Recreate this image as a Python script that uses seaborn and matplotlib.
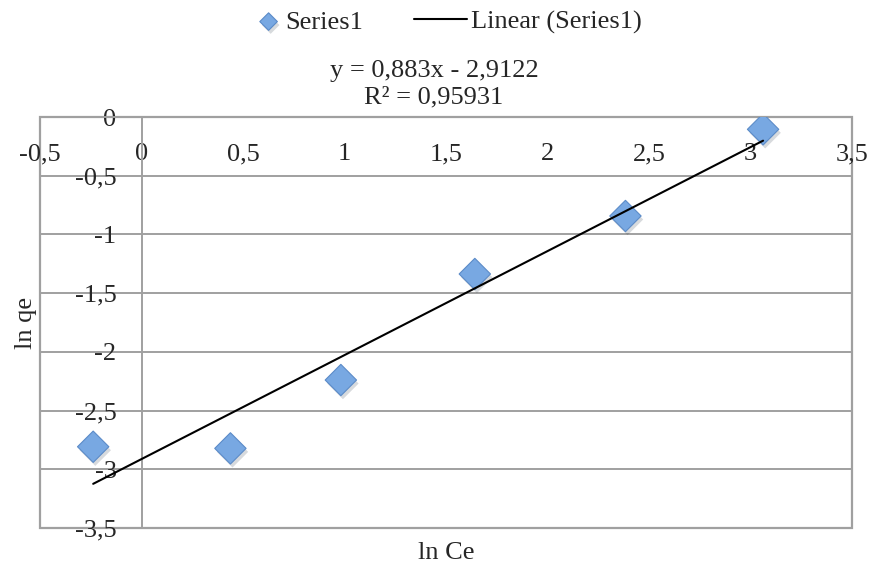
"""Gráfico ln qe vs ln Ce com linha de tendência linear (estilo Excel)."""
import matplotlib
matplotlib.use("Agg")
import matplotlib.pyplot as plt
import matplotlib.patheffects as pe
from matplotlib.collections import PathCollection
from matplotlib.legend_handler import HandlerPathCollection
import seaborn as sns
import pandas as pd

# Dados
ln_ce = [-0.238, 0.438, 0.982, 1.642, 2.384, 3.062]
ln_qe = [-2.808, -2.822, -2.240, -1.337, -0.843, -0.105]

x_ticks = [-0.5, 0, 0.5, 1, 1.5, 2, 2.5, 3, 3.5]
x_tick_labels = ["-0,5", "0", "0,5", "1", "1,5", "2", "2,5", "3", "3,5"]
y_ticks = [0, -0.5, -1, -1.5, -2, -2.5, -3, -3.5]
y_tick_labels = ["0", "-0,5", "-1", "-1,5", "-2", "-2,5", "-3", "-3,5"]

eq_text = "y = 0,883x - 2,9122"
r2_text = "R² = 0,95931"

df = pd.DataFrame({"ln Ce": ln_ce, "ln qe": ln_qe})

sns.set_style("white")
plt.rcParams["font.family"] = ["Liberation Serif", "DejaVu Serif"]
plt.rcParams["font.size"] = 19

grid_color = "#a0a0a0"

fig = plt.figure(figsize=(8.71, 5.65), dpi=100)
ax = fig.add_axes([40 / 871, 1 - 528 / 565, 812 / 871, 411 / 565])

# pontos
sns.scatterplot(data=df, x="ln Ce", y="ln qe", marker="D", s=255,
                color="#78a8e2", edgecolor="#5b8bc8", linewidth=0.8,
                label="Series1", ax=ax, zorder=4,
                path_effects=[pe.SimplePatchShadow(offset=(1.5, -2.5), alpha=0.18),
                              pe.Normal()])
# linha de tendência
sns.regplot(data=df, x="ln Ce", y="ln qe", scatter=False, ci=None,
            color="black", line_kws={"linewidth": 1.5, "zorder": 5},
            label="Linear (Series1)", ax=ax)

ax.set_xlim(-0.5, 3.5)
ax.set_ylim(-3.5, 0)

# eixos cruzando em zero
ax.spines["left"].set_position(("data", 0))
ax.spines["bottom"].set_position(("data", 0))
for s in ["left", "bottom"]:
    ax.spines[s].set_color(grid_color)
    ax.spines[s].set_linewidth(1.4)
    ax.spines[s].set_zorder(1)
for s in ["top", "right"]:
    ax.spines[s].set_visible(False)

# borda da área de plotagem
ax.patch.set_edgecolor(grid_color)
ax.patch.set_linewidth(1.6)

ax.set_xticks(x_ticks)
ax.set_xticklabels(x_tick_labels)
ax.set_yticks(y_ticks)
ax.set_yticklabels(y_tick_labels)
ax.tick_params(axis="x", direction="out", length=6, width=1.4, color=grid_color,
               pad=13, labelsize=19)
ax.tick_params(axis="y", length=0, pad=18, labelsize=19)

ax.yaxis.grid(True, color=grid_color, linewidth=1.4, zorder=0)
ax.xaxis.grid(False)
ax.set_axisbelow(True)

ax.set_xlabel("ln Ce", fontsize=19)
ax.set_ylabel("ln qe", fontsize=19)
ax.xaxis.set_label_coords(0.5, -0.035)
ax.yaxis.set_label_coords(-0.004, 0.5)

leg = ax.legend(loc="center", bbox_to_anchor=(435 / 871, 1 - 22 / 565),
                bbox_transform=fig.transFigure, ncol=2, frameon=False,
                fontsize=19, handlelength=2.0, handletextpad=0.15,
                columnspacing=1.95, borderpad=0,
                handler_map={PathCollection: HandlerPathCollection(xpad=1.06)})
leg.legend_handles[0].set_sizes([80])

fig.text(434 / 871, 1 - 71 / 565, eq_text, ha="center", va="center", fontsize=19)
fig.text(434 / 871, 1 - 97 / 565, r2_text, ha="center", va="center", fontsize=19)

fig.savefig("out.png", dpi=100)
